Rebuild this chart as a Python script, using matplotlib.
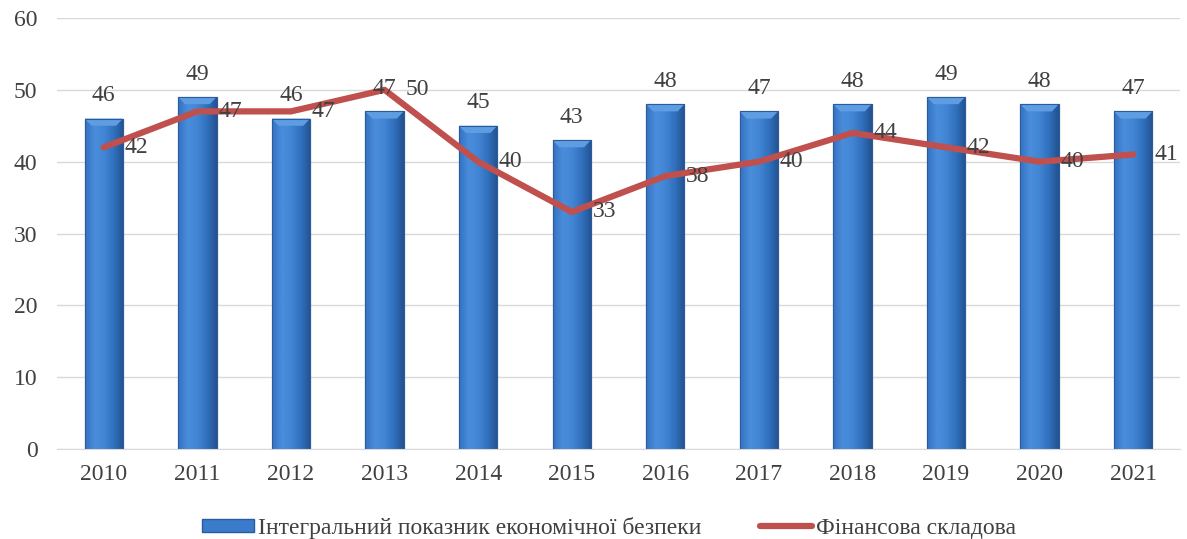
import matplotlib
matplotlib.use("Agg")
import matplotlib.pyplot as plt
import numpy as np
from matplotlib.patches import Rectangle, Polygon
from matplotlib.lines import Line2D
from matplotlib.colors import LinearSegmentedColormap

years = ["2010", "2011", "2012", "2013", "2014", "2015",
         "2016", "2017", "2018", "2019", "2020", "2021"]
integral_index = [46, 49, 46, 47, 45, 43, 48, 47, 48, 49, 48, 47]
financial = [42, 47, 47, 50, 40, 33, 38, 40, 44, 42, 40, 41]
bar_name = "Інтегральний показник економічної безпеки"
line_name = "Фінансова складова"

plt.rcParams["font.family"] = ["Liberation Serif", "DejaVu Serif"]
text_color = "#404040"
fs = 17

fig = plt.figure(figsize=(11.87, 5.39), dpi=100)
ax = fig.add_axes([57 / 1187, 1 - 449 / 539, 1123 / 1187, (449 - 18) / 539])

x = np.arange(len(years))
width = 0.41
bars = ax.bar(x, integral_index, width=width, color="#3b7bcb",
              edgecolor="#2a5b9c", linewidth=0.8, zorder=2)

# horizontal shading across each bar
cmap = LinearSegmentedColormap.from_list(
    "barshade", ["#3572c2", "#4a8ddb", "#4285d4", "#3070bd", "#24528f"])
grad = np.linspace(0, 1, 64).reshape(1, -1)
for rect in bars:
    x0 = rect.get_x()
    h = rect.get_height()
    im = ax.imshow(grad, cmap=cmap, aspect="auto",
                   extent=[x0, x0 + width, 0, h], zorder=2.1,
                   interpolation="bicubic")
    im.set_clip_path(rect)
    # bevelled top cap
    cap = 1.0
    inset = width * 0.18
    ax.add_patch(Polygon([[x0, h], [x0 + width, h],
                          [x0 + width - inset, h - cap], [x0 + inset, h - cap]],
                         closed=True, facecolor="#5f9de3", edgecolor="none",
                         zorder=2.2))
    ax.add_patch(Rectangle((x0, 0), width, h, facecolor="none",
                           edgecolor="#2a5b9c", linewidth=0.8, zorder=2.3))

ax.plot(x, financial, color="#c0504d", linewidth=4.5,
        solid_capstyle="round", solid_joinstyle="round", zorder=3)

for xi, v in zip(x, integral_index):
    ax.annotate(f"{v}", (xi, v), xytext=(0, 9), textcoords="offset points",
                ha="center", va="bottom", fontsize=fs, color=text_color,
                zorder=4)
for xi, v in zip(x, financial):
    ax.annotate(f"{v}", (xi, v), xytext=(15, 0), textcoords="offset points",
                ha="left", va="center", fontsize=fs, color=text_color,
                zorder=4)

ax.set_xlim(-0.5, len(years) - 0.5)
ax.set_ylim(0, 60)
ax.set_yticks(range(0, 61, 10))
ax.set_xticks(x)
ax.set_xticklabels(years)
ax.tick_params(axis="both", length=0, labelsize=fs, labelcolor=text_color)
ax.tick_params(axis="y", pad=14)
ax.tick_params(axis="x", pad=11)
ax.grid(axis="y", color="#d9d9d9", linewidth=1)
ax.set_axisbelow(True)
for side in ["top", "right", "left"]:
    ax.spines[side].set_visible(False)
ax.spines["bottom"].set_color("#d9d9d9")

handles = [Rectangle((0, 0), 1, 1, facecolor="#3b7bcb", edgecolor="#2a5b9c"),
           Line2D([0], [0], color="#c0504d", linewidth=4.5,
                  solid_capstyle="round")]
fig.legend(handles, [bar_name, line_name], loc="center",
           bbox_to_anchor=(609 / 1187, 1 - 528 / 539), ncol=2, frameon=False,
           fontsize=fs, labelcolor=text_color, handlelength=2.2,
           handleheight=0.5, handletextpad=0.15, columnspacing=2.5)

fig.savefig("out.png", dpi=100)
